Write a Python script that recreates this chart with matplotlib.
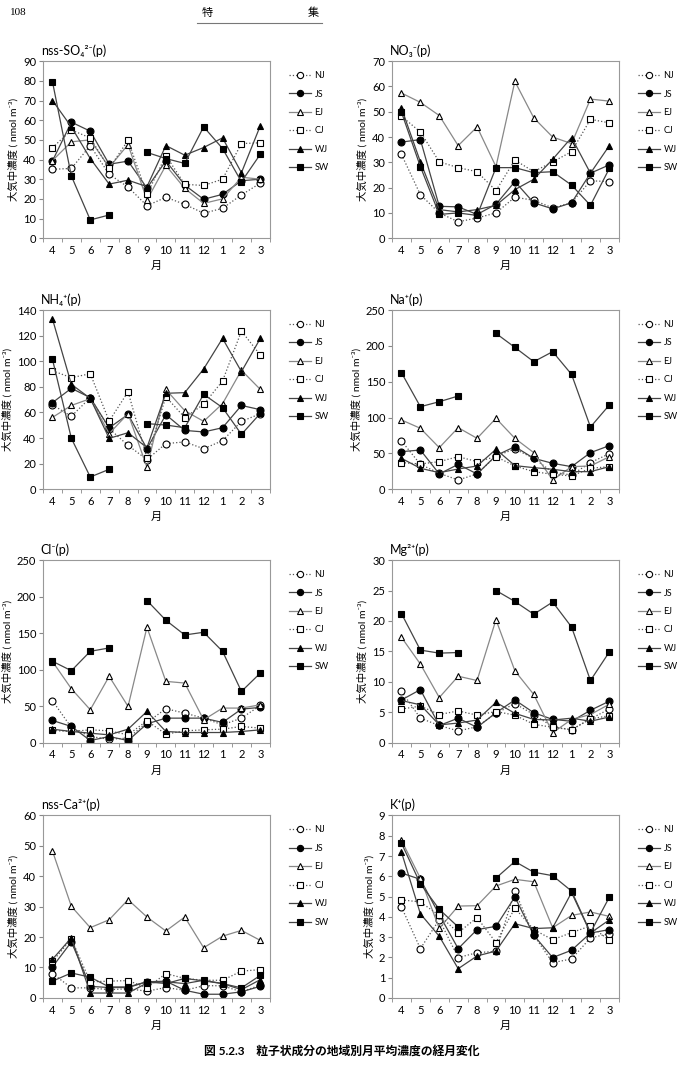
import numpy as np
import matplotlib
matplotlib.use('Agg')
import matplotlib.pyplot as plt
from matplotlib.ticker import MultipleLocator, FixedLocator

fams = ['Lato', 'Noto Sans CJK JP', 'DejaVu Sans']
plt.rcParams['font.family'] = fams

nan = np.nan
months = ['4', '5', '6', '7', '8', '9', '10', '11', '12', '1', '2', '3']
regions = ['NJ', 'JS', 'EJ', 'CJ', 'WJ', 'SW']

so4 = {
    'NJ': [35, 35.5, 47, 32.5, 26, 16.5, 20.8, 17.2, 12.7, 15.2, 22, 28],
    'JS': [39.3, 59, 54.4, 37.6, 39.2, 25.5, 39.3, 27, 19.8, 22.3, 29.2, 30],
    'EJ': [39.5, 49, 50, 36, 47.6, 19.4, 37, 25.3, 17.7, 20, 31, 30],
    'CJ': [46, 55, 51, 35.5, 49.8, 22.3, 42, 27.4, 26.8, 30, 48.1, 48.5],
    'WJ': [70, 56.6, 40.5, 27.5, 29.5, 26.2, 47.1, 42.2, 46.1, 51, 33.3, 57.2],
    'SW': [79.5, 31.6, 9.3, 11.8, nan, 43.6, 40.5, 38, 56.6, 45.6, 28.7, 42.7],
}
no3 = {
    'NJ': [33.1, 17.2, 10, 6.5, 8, 10, 16.2, 15, 12, 14, 22.7, 22.4],
    'JS': [38, 39, 12.6, 12.4, 9.4, 13.4, 22.4, 14, 11.6, 14, 25.7, 29],
    'EJ': [57.4, 53.7, 48.5, 36.6, 44, 28.3, 62, 47.6, 40, 37.4, 55, 54.2],
    'CJ': [48.2, 42, 30.2, 27.9, 26.3, 18.8, 30.9, 26.3, 30.2, 34.2, 47, 45.6],
    'WJ': [51.4, 30.2, 11.3, 10.4, 11.3, 13, 19.2, 23.3, 31.2, 39.8, 25.7, 36.6],
    'SW': [49.8, 28.3, 9.4, 10, 9, 27.9, 27.9, 25.9, 26.3, 21, 13, 27.6],
}
nh4 = {
    'NJ': [66, 57, 71.6, 47.4, 34.3, 23.2, 35.7, 37, 31.7, 38, 53.1, 59],
    'JS': [67.7, 78.9, 71.6, 48, 58.5, 31.7, 58.3, 46, 44.8, 48.1, 65.5, 62.2],
    'EJ': [56.2, 65.5, 70.8, 43.5, 59.1, 17.2, 78, 61.4, 53.1, 66.9, 93, 78],
    'CJ': [92.6, 87.2, 90.3, 53.3, 76.2, 24.2, 72.3, 56, 66.4, 84.6, 123.6, 104.9],
    'WJ': [133, 82, 71, 39.8, 44.2, 32.5, 75, 75.5, 94, 117.9, 91.9, 117.9],
    'SW': [101.5, 39.8, 9.6, 15.6, nan, 51.3, 50.2, 48.1, 74.2, 63.8, 42.9, 59.3],
}
na = {
    'NJ': [67.4, 34.8, 22.3, 13, 21.4, 46.5, 56.2, 43.2, 23.7, 20, 37.2, 49.7],
    'JS': [52.5, 54.8, 21.4, 34.8, 21.4, 47, 59.5, 43.2, 36.2, 31.6, 51.1, 60.9],
    'EJ': [96.7, 85.1, 58.1, 86, 71.1, 99, 71.1, 51.1, 13, 31.6, 32.5, 45.5],
    'CJ': [37.2, 35.3, 38.6, 45.5, 38.6, 45.5, 32.5, 24.6, 20.9, 18.6, 29.3, 31.6],
    'WJ': [43.2, 29.3, 23.2, 28.3, 32.5, 55.8, 33, 30.2, 27.9, 24.6, 24.6, 31.6],
    'SW': [162.6, 115.2, 122.2, 130.1, nan, 217.5, 198, 178, 192, 160.3, 86.9, 117.6],
}
cl = {
    'NJ': [57.2, 20.6, 8.2, 4.6, 6, 27.5, 46.3, 40.3, 33.4, 24.3, 33.4, 50.8],
    'JS': [30.2, 22, 2.7, 8.2, 2.7, 25.6, 33.4, 33.4, 33.4, 27.5, 45.8, 48.1],
    'EJ': [111, 73.7, 44.9, 90.7, 49.5, 158, 83.8, 81.5, 31.1, 47.2, 47.2, 51.7],
    'CJ': [16.5, 15.1, 17.4, 16, 10.5, 29.8, 11.4, 16, 17.4, 18.3, 22, 19.7],
    'WJ': [18.3, 15.1, 12.8, 10.5, 18.3, 42.6, 15.1, 13.7, 13.7, 13.7, 15.1, 17.4],
    'SW': [111.3, 98.4, 125, 129.6, nan, 194.6, 167.6, 147.4, 151.1, 125, 70, 95.2],
}
mg = {
    'NJ': [8.4, 4, 2.8, 1.9, 2.6, 4.8, 6.4, 4.6, 2.6, 2.1, 3.9, 5.5],
    'JS': [7, 8.7, 2.8, 4, 2.5, 4.9, 7, 4.9, 3.8, 3.5, 5.3, 6.8],
    'EJ': [17.3, 12.9, 7.4, 10.9, 10.2, 20.2, 11.8, 7.9, 1.6, 3.8, 4.6, 6.3],
    'CJ': [5.5, 6, 4.6, 5.2, 4.5, 5.1, 4.5, 3, 2.5, 2.1, 3.9, 4.4],
    'WJ': [6.9, 6.2, 2.9, 3.2, 3.7, 6.6, 4.8, 3.8, 3.7, 4, 3.5, 4.2],
    'SW': [21.2, 15.2, 14.7, 14.8, nan, 25, 23.2, 21.1, 23.1, 19, 10.2, 14.9],
}
ca = {
    'NJ': [8, 3.3, 3.3, 2.7, 3, 2.2, 3.4, 2.5, 4, 4, 2, 4.2],
    'JS': [10.2, 18.4, 3.8, 3.4, 3.4, 5.3, 5.5, 2.5, 1.2, 1.2, 2, 3.8],
    'EJ': [48.3, 30.1, 23.1, 25.7, 32.3, 26.6, 22, 26.6, 16.5, 20.3, 22.2, 18.9],
    'CJ': [12, 19.4, 5.3, 5.5, 5.7, 3.3, 8, 6.4, 5.8, 5.8, 8.8, 9.3],
    'WJ': [12.7, 19.8, 1.6, 1.6, 1.6, 4.9, 5.3, 4.7, 5.8, 4.7, 2.7, 6],
    'SW': [5.5, 8.2, 6.8, 3.6, 3.6, 5.3, 4.7, 6.4, 5.6, 4.7, 3.3, 7.4],
}
k = {
    'NJ': [4.48, 2.43, 3.86, 1.99, 2.23, 2.3, 5.27, 3.09, 1.74, 1.92, 2.96, 3.17],
    'JS': [6.16, 5.85, 4.1, 2.43, 3.37, 3.53, 4.98, 3.09, 1.99, 2.35, 3.2, 3.37],
    'EJ': [7.77, 5.9, 3.43, 4.53, 4.55, 5.52, 5.85, 5.73, 3.46, 4.07, 4.24, 4.02],
    'CJ': [4.84, 4.73, 4.07, 3.22, 3.96, 2.73, 4.43, 3.37, 2.87, 3.22, 3.55, 2.84],
    'WJ': [7.19, 4.15, 3.04, 1.44, 2.07, 2.31, 3.66, 3.42, 3.46, 5.2, 3.2, 3.85],
    'SW': [7.63, 5.63, 4.37, 3.5, nan, 5.91, 6.73, 6.2, 6.03, 5.27, 3.22, 4.97],
}

panels = [
    (so4, 'nss-SO₄²⁻(p)', 90, 10),
    (no3, 'NO₃⁻(p)', 70, 10),
    (nh4, 'NH₄⁺(p)', 140, 20),
    (na, 'Na⁺(p)', 250, 50),
    (cl, 'Cl⁻(p)', 250, 50),
    (mg, 'Mg²⁺(p)', 30, 5),
    (ca, 'nss-Ca²⁺(p)', 60, 10),
    (k, 'K⁺(p)', 9, 1),
]

styles = {
    'NJ': dict(marker='o', mfc='white', ls=':', color='#555555'),
    'JS': dict(marker='o', mfc='black', ls='-', color='#444444'),
    'EJ': dict(marker='^', mfc='white', ls='-', color='#888888'),
    'CJ': dict(marker='s', mfc='white', ls=':', color='#555555'),
    'WJ': dict(marker='^', mfc='black', ls='-', color='#444444'),
    'SW': dict(marker='s', mfc='black', ls='-', color='#444444'),
}

fig = plt.figure(figsize=(6.83, 10.73), dpi=100)

lefts = [0.063, 0.574]
rows = [(0.778, 0.165), (0.544, 0.167), (0.308, 0.170), (0.070, 0.170)]
x = np.arange(len(months))

for i, (data, title, ymax, ystep) in enumerate(panels):
    bottom, height = rows[i // 2]
    ax = fig.add_axes([lefts[i % 2], bottom, 0.332, height])
    for r in regions:
        st = styles[r]
        ax.plot(x, data[r], marker=st['marker'], mfc=st['mfc'], mec='black',
                ls=st['ls'], color=st['color'], lw=0.9, ms=5, mew=0.8, label=r)
    ax.set_xlim(-0.5, 11.5)
    ax.set_ylim(0, ymax)
    ax.yaxis.set_major_locator(MultipleLocator(ystep))
    ax.set_xticks(x)
    ax.set_xticklabels(months)
    ax.xaxis.set_minor_locator(FixedLocator(np.arange(-0.5, 12, 1)))
    ax.tick_params(axis='x', which='major', length=0, labelsize=8, pad=5)
    ax.tick_params(axis='x', which='minor', length=3, color='#888888')
    ax.tick_params(axis='y', length=3, labelsize=8, color='#888888', pad=2)
    for s in ax.spines.values():
        s.set_color('#999999')
        s.set_linewidth(0.8)
    ax.set_xlabel('月', fontsize=8, labelpad=3)
    ax.set_ylabel('大気中濃度 ( nmol m⁻³)', fontsize=7.5, labelpad=3,
                  family=fams)
    ax.text(-0.01, 1.025, title, transform=ax.transAxes, ha='left', va='bottom',
            fontsize=9, family=fams)
    ax.legend(loc='upper left', bbox_to_anchor=(1.05, 0.99), frameon=False,
              prop={'size': 6.5}, handlelength=2.4, labelspacing=1.05,
              markerscale=0.9, handletextpad=0.4)

fig.text(0.015, 0.988, '108', fontsize=8, family=['Liberation Serif'],
         ha='left', va='center')
fig.text(0.303, 0.988, '特', fontsize=8, ha='center', va='center')
fig.text(0.458, 0.988, '集', fontsize=8, ha='center', va='center')
fig.add_artist(plt.Line2D([0.288, 0.472], [0.979, 0.979], color='#777777', lw=0.8))
fig.text(0.5, 0.021, '図 5.2.3　粒子状成分の地域別月平均濃度の経月変化', fontsize=8.5,
         ha='center', va='center', fontweight='bold')

fig.savefig('out.png', dpi=100)
